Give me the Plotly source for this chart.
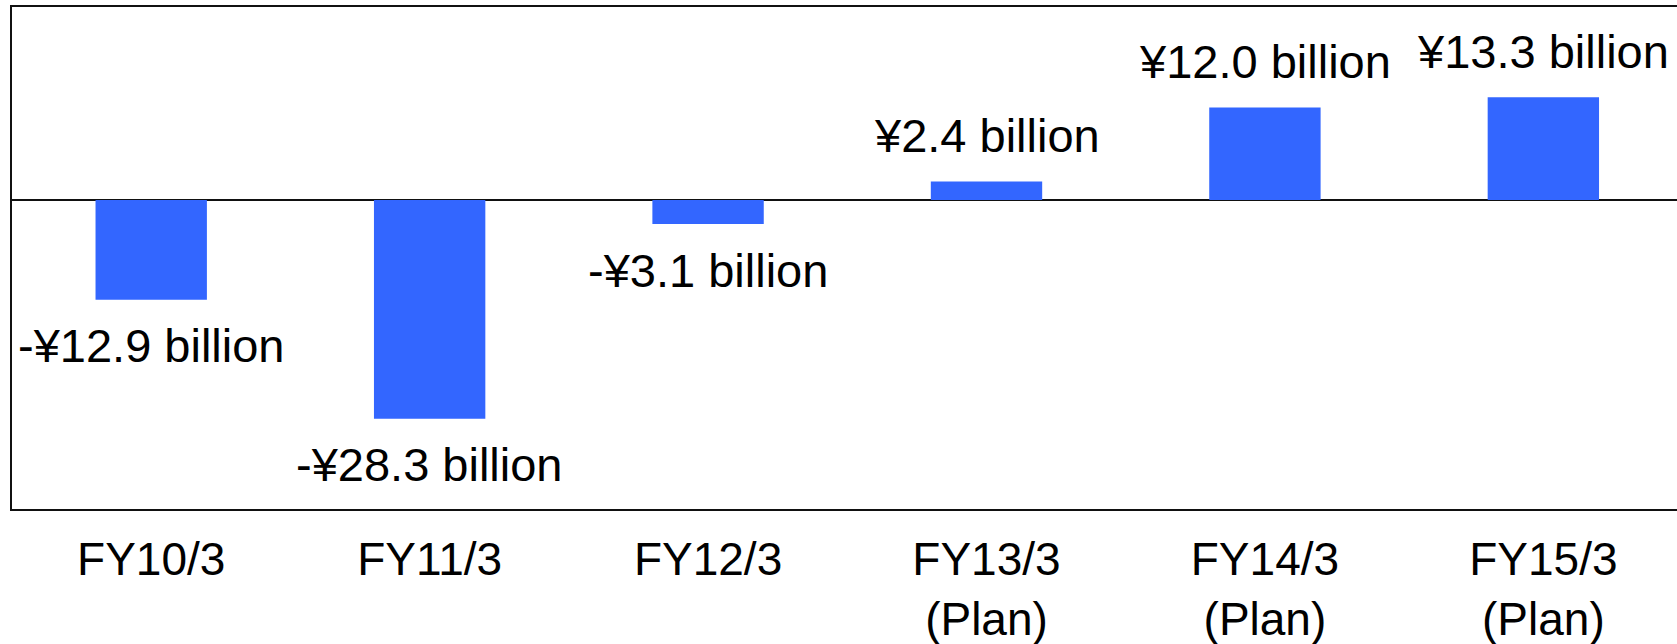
import plotly.graph_objects as go

# Fiscal years and operating income (¥ billion)
categories = ["FY10/3", "FY11/3", "FY12/3", "FY13/3", "FY14/3", "FY15/3"]
tick_labels = ["FY10/3", "FY11/3", "FY12/3", "FY13/3<br>(Plan)", "FY14/3<br>(Plan)", "FY15/3<br>(Plan)"]
values = [-12.9, -28.3, -3.1, 2.4, 12.0, 13.3]
value_labels = ["-¥12.9 billion", "-¥28.3 billion", "-¥3.1 billion",
                "¥2.4 billion", "¥12.0 billion", "¥13.3 billion"]

FONT = "Liberation Sans, Arial, sans-serif"
BAR_COLOR = "#3366FF"

fig = go.Figure(
    go.Bar(
        x=categories,
        y=values,
        width=0.4,
        marker=dict(color=BAR_COLOR, line=dict(width=0)),
        hoverinfo="skip",
    )
)

# value labels placed just beyond the end of each bar
for cat, v, lab in zip(categories, values, value_labels):
    fig.add_annotation(
        x=cat, y=v, text=lab, showarrow=False,
        xanchor="center", yanchor="middle",
        yshift=46 if v > 0 else -46,
        font=dict(family=FONT, size=47, color="black"),
    )

fig.update_layout(
    width=1677, height=644,
    margin=dict(l=12, r=0, t=7, b=135, autoexpand=False),
    paper_bgcolor="white", plot_bgcolor="white",
    showlegend=False,
    font=dict(family=FONT, color="black"),
    xaxis=dict(
        range=[-0.5, 5.48],
        automargin=False,
        tickmode="array", tickvals=categories, ticktext=tick_labels,
        tickfont=dict(family=FONT, size=46, color="black"),
        ticklabelstandoff=9,
        showline=True, mirror=True, linecolor="#111111", linewidth=2,
        showgrid=False, zeroline=False, ticks="",
    ),
    yaxis=dict(
        range=[-40, 25],
        automargin=False,
        showticklabels=False, ticks="", showgrid=False,
        showline=True, mirror=False, linecolor="#111111", linewidth=2,
        zeroline=True, zerolinecolor="#111111", zerolinewidth=2,
    ),
)

fig.write_html("out.html")
